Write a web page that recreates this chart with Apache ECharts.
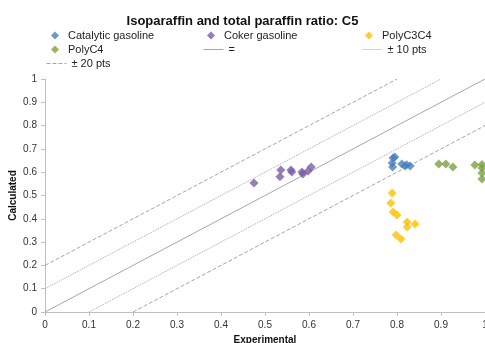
<!DOCTYPE html>
<html>
<head>
<meta charset="utf-8">
<script src="https://cdn.jsdelivr.net/npm/echarts@6/dist/echarts.min.js"></script>
<style>
  html, body { margin: 0; padding: 0; background: #fff; }
  #myChart { width: 485px; height: 343px; }
</style>
</head>
<body>
<div id="myChart"></div>
<script>
  // experimental vs calculated ratio
  const catalytic = [[0.791, 0.661], [0.795, 0.665], [0.789, 0.639], [0.790, 0.622], [0.811, 0.635], [0.818, 0.627], [0.830, 0.627], [0.822, 0.632]];
  const coker = [[0.475, 0.554], [0.534, 0.580], [0.536, 0.609], [0.559, 0.609], [0.561, 0.601], [0.584, 0.601], [0.586, 0.592], [0.598, 0.605], [0.605, 0.622]];
  const polyC3C4 = [[0.789, 0.511], [0.786, 0.468], [0.791, 0.429], [0.800, 0.416], [0.823, 0.386], [0.823, 0.365], [0.841, 0.378], [0.798, 0.330], [0.809, 0.313]];
  const polyC4 = [[0.895, 0.635], [0.911, 0.635], [0.927, 0.622], [0.977, 0.631], [0.993, 0.633], [0.993, 0.618], [0.993, 0.597], [0.993, 0.571]];
  const equalLine = [[0, 0], [1, 1]];
  const plus10 = [[0, 0.1], [0.9, 1]];
  const minus10 = [[0.1, 0], [1, 0.9]];
  const plus20 = [[0, 0.2], [0.8, 1]];
  const minus20 = [[0.2, 0], [1, 0.8]];

  let myChart = echarts.init(document.getElementById('myChart'));

  const font = 'Liberation Sans, Arial, sans-serif';
  const lineGray = '#a6a6a6';

  function legendAt(name, left, top, isLine) {
    let lg = {
      data: [name],
      left: left,
      top: top,
      itemWidth: isLine ? 20 : 8,
      itemHeight: 8,
      itemGap: 0,
      padding: 0,
      textStyle: {
        fontFamily: font,
        fontSize: 11,
        color: '#222',
        padding: [0, 0, 0, isLine ? 0 : 4]
      }
    };
    if (isLine) {
      lg.itemStyle = { opacity: 0 };
      lg.lineStyle = { width: 1 };
    }
    return lg;
  }

  function refLine(name, data, type) {
    return {
      name: name,
      type: 'line',
      data: data,
      symbol: 'none',
      silent: true,
      lineStyle: { color: lineGray, width: 1, type: type },
      itemStyle: { color: lineGray },
      z: 1
    };
  }

  function scatter(name, data, color) {
    return {
      name: name,
      type: 'scatter',
      data: data,
      symbol: 'diamond',
      symbolSize: 9,
      itemStyle: { color: color },
      z: 3
    };
  }

  myChart.setOption({
    animation: false,
    title: {
      text: 'Isoparaffin and total paraffin ratio: C5',
      left: 'center',
      top: 10,
      textStyle: { fontFamily: font, fontSize: 13, fontWeight: 'bold', color: '#111' }
    },
    legend: [
      legendAt('Catalytic gasoline', 51, 30, false),
      legendAt('Coker gasoline', 207, 30, false),
      legendAt('PolyC3C4', 365, 30, false),
      legendAt('PolyC4', 51, 44, false),
      legendAt('=', 203, 44, true),
      legendAt('± 10 pts', 362, 44, true),
      legendAt('± 20 pts', 46, 58, true)
    ],
    grid: { left: 45, right: 0, top: 79, bottom: 31, outerBoundsMode: 'none', containLabel: false },
    xAxis: {
      type: 'value',
      min: 0,
      max: 1,
      interval: 0.1,
      name: 'Experimental',
      nameLocation: 'middle',
      nameGap: 23,
      nameMoveOverlap: false,
      nameTextStyle: { fontFamily: font, fontSize: 10, fontWeight: 'bold', color: '#111' },
      axisLine: { lineStyle: { color: '#bfbfbf' } },
      axisTick: { show: true, length: 4, lineStyle: { color: '#bfbfbf' } },
      axisLabel: { fontFamily: font, fontSize: 10, color: '#333', margin: 8 },
      splitLine: { show: false }
    },
    yAxis: {
      type: 'value',
      min: 0,
      max: 1,
      interval: 0.1,
      name: 'Calculated',
      nameLocation: 'middle',
      nameGap: 27,
      nameMoveOverlap: false,
      nameTextStyle: { fontFamily: font, fontSize: 10, fontWeight: 'bold', color: '#111' },
      axisLine: { show: true, lineStyle: { color: '#bfbfbf' } },
      axisTick: { show: true, length: 4, lineStyle: { color: '#bfbfbf' } },
      axisLabel: { fontFamily: font, fontSize: 10, color: '#333', margin: 8 },
      splitLine: { show: false }
    },
    series: [
      scatter('Catalytic gasoline', catalytic, '#4a7ebb'),
      scatter('Coker gasoline', coker, '#7b5ea7'),
      scatter('PolyC3C4', polyC3C4, '#ffc000'),
      scatter('PolyC4', polyC4, '#7aa23f'),
      refLine('=', equalLine, 'solid'),
      refLine('± 10 pts', plus10, 'dotted'),
      refLine('± 10 pts', minus10, 'dotted'),
      refLine('± 20 pts', plus20, 'dashed'),
      refLine('± 20 pts', minus20, 'dashed')
    ]
  });
</script>
</body>
</html>
